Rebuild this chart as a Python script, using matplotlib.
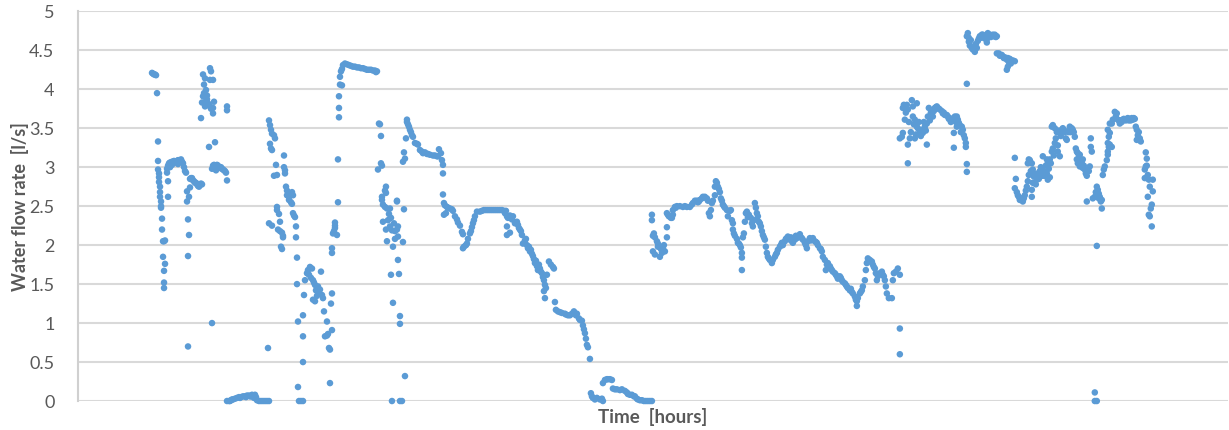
import matplotlib
matplotlib.use("Agg")
import matplotlib.pyplot as plt

# flow logger readings: (time [min from start of record], flow [l/s])
burst_a = [(152, 4.21), (153, 4.20), (154, 4.19), (155, 4.19), (156, 4.18), (157, 3.95), (158, 3.33),
           (158, 3.08), (158, 2.97), (159, 2.92), (159, 2.87), (159, 2.81), (160, 2.75), (160, 2.68),
           (160, 2.62), (161, 2.56), (161, 2.50), (161, 2.48), (162, 2.34), (162, 2.20), (163, 2.05),
           (164, 2.05), (165, 2.06), (163, 1.85), (165, 1.76), (164, 1.67), (164, 1.52), (164, 1.45),
           (167, 2.98), (167, 2.93), (168, 3.02), (168, 2.82), (168, 2.62), (169, 3.05), (170, 3.06),
           (170, 3.00), (171, 3.06), (172, 3.07), (172, 3.03), (173, 3.07), (174, 3.08), (175, 3.06),
           (176, 3.07), (177, 3.08), (178, 3.09), (178, 3.04), (179, 3.09), (180, 3.08), (181, 3.10),
           (182, 3.07), (183, 3.05), (184, 3.00), (185, 2.95), (186, 2.93), (187, 2.69), (187, 2.56),
           (188, 2.33), (189, 2.62), (189, 2.13), (190, 2.74), (190, 2.85), (191, 2.86), (192, 2.86),
           (193, 2.83), (194, 2.82), (195, 2.80), (196, 2.80), (197, 2.78), (198, 2.76), (199, 2.75),
           (200, 2.77), (201, 2.79), (202, 2.78), (188, 1.86), (188, 0.70),
           (210, 4.27), (211, 4.23), (203, 4.19), (205, 4.14), (210, 4.12), (213, 4.12), (204, 4.06),
           (206, 3.99), (203, 3.91), (207, 3.87), (202, 3.83), (208, 3.82), (214, 3.84), (205, 3.78),
           (210, 3.78), (213, 3.76), (213, 3.69), (201, 3.63), (227, 3.78), (227, 3.73), (209, 3.26),
           (215, 3.32), (206, 3.85), (209, 3.80), (211, 3.75), (204, 3.95), (207, 3.92),
           (212, 2.98), (213, 3.02), (214, 3.03), (215, 3.01), (216, 3.00), (217, 3.03), (218, 3.02),
           (219, 3.00), (220, 2.99), (221, 3.00), (222, 2.98), (223, 2.97), (224, 2.96), (225, 2.95),
           (226, 2.93), (227, 2.83), (212, 1.00), (214, 2.99), (216, 2.96)]

low_a = [(227, 0.00), (229, 0.00), (231, 0.01), (233, 0.02), (235, 0.03), (237, 0.04), (239, 0.05),
         (241, 0.05), (243, 0.06), (245, 0.06), (247, 0.07), (249, 0.07), (251, 0.06), (253, 0.07),
         (255, 0.08), (256, 0.05), (257, 0.01), (259, 0.00), (261, 0.00), (263, 0.00), (265, 0.00),
         (267, 0.00), (269, 0.00), (230, 0.00), (240, 0.04), (250, 0.06), (254, 0.04), (246, 0.05),
         (252, 0.08), (232, 0.02)]

burst_b = [(268, 0.68), (269, 3.60), (270, 3.54), (271, 3.48), (272, 3.43), (274, 3.41), (275, 3.37),
           (270, 3.30), (271, 3.24), (272, 3.22), (276, 3.03), (274, 2.89), (277, 2.90), (277, 2.49),
           (277, 2.45), (279, 2.40), (269, 2.28), (272, 2.25), (280, 2.30), (278, 2.20), (280, 2.18),
           (282, 2.16), (283, 2.12), (283, 2.10), (281, 1.98), (282, 1.95),
           (284, 3.15), (284, 3.00), (285, 2.96), (285, 2.92), (286, 2.75), (287, 2.70), (287, 2.64),
           (289, 2.62), (290, 2.66), (292, 2.68), (293, 2.64), (289, 2.58), (291, 2.55), (292, 2.53),
           (293, 2.41), (294, 2.38), (295, 2.36), (296, 2.24), (296, 2.10), (297, 1.84), (297, 1.50),
           (298, 1.02), (298, 0.18), (299, 0.00), (301, 0.00), (303, 0.00), (303, 1.10), (303, 0.83),
           (303, 0.50), (304, 1.36),
           (305, 1.55), (307, 1.64), (308, 1.68), (310, 1.72), (312, 1.70), (313, 1.55), (315, 1.49),
           (317, 1.45), (318, 1.47), (320, 1.43), (321, 1.66), (313, 1.30), (315, 1.28), (322, 1.36),
           (323, 1.32), (324, 1.15), (327, 1.02), (325, 0.83), (327, 0.84), (328, 0.86), (329, 0.68),
           (330, 0.66), (330, 0.23), (332, 0.91), (331, 1.25), (332, 1.38), (332, 1.90), (332, 1.96),
           (333, 2.15), (334, 2.18), (335, 2.22), (335, 2.25), (335, 2.29), (337, 2.13), (338, 2.55),
           (338, 3.10), (309, 1.62), (311, 1.58), (314, 1.52), (316, 1.42), (319, 1.38), (317, 1.35)]

peak_b = [(339, 3.64), (339, 3.76), (339, 3.91), (340, 4.06), (342, 4.05), (340, 4.16), (341, 4.23),
          (342, 4.26), (343, 4.31), (345, 4.33), (347, 4.32), (349, 4.31), (351, 4.30), (353, 4.29),
          (355, 4.29), (357, 4.28), (359, 4.28), (361, 4.27), (363, 4.27), (365, 4.26), (367, 4.25),
          (369, 4.25), (371, 4.25), (373, 4.24), (375, 4.24), (377, 4.23), (376, 4.22)]

burst_c = [(379, 3.56), (380, 3.55), (381, 3.40), (381, 3.05), (382, 3.02), (378, 2.97), (386, 2.75),
           (385, 2.70), (386, 2.67), (382, 2.62), (382, 2.58), (383, 2.52), (385, 2.49), (387, 2.47),
           (390, 2.47), (383, 2.30), (388, 2.32), (386, 2.20), (390, 2.24), (392, 2.19), (395, 2.18),
           (397, 2.20), (398, 2.11), (395, 2.08), (393, 1.98), (387, 2.05), (397, 2.56), (397, 2.57),
           (398, 2.24), (403, 2.04), (404, 2.46), (398, 1.81), (391, 1.62), (399, 1.63), (393, 1.26),
           (400, 1.09), (400, 0.99), (405, 0.32), (392, 0.00), (400, 0.00), (402, 0.00), (389, 2.40),
           (391, 2.35), (394, 2.28)]

decline_c = [(403, 3.07), (405, 3.11), (404, 3.19), (406, 3.37), (407, 3.61), (407, 3.58), (408, 3.55),
             (409, 3.52), (410, 3.48), (411, 3.45), (412, 3.41), (413, 3.39), (415, 3.31), (417, 3.30),
             (418, 3.29), (420, 3.22), (422, 3.20), (423, 3.18), (427, 3.17), (430, 3.16), (433, 3.15),
             (437, 3.14), (439, 3.23), (441, 3.18), (442, 3.09), (443, 3.03), (443, 2.92), (443, 2.65),
             (444, 2.54), (445, 2.51), (447, 2.49), (448, 2.48), (450, 2.47), (452, 2.46), (453, 2.44),
             (455, 2.37), (457, 2.33), (458, 2.29), (460, 2.25), (462, 2.17), (463, 2.14), (444, 2.39),
             (446, 2.41), (463, 1.96), (464, 1.98), (466, 2.00), (467, 2.02), (468, 2.08), (470, 2.15),
             (471, 2.18), (472, 2.23), (473, 2.28), (474, 2.32), (475, 2.37), (477, 2.43), (480, 2.43),
             (482, 2.44), (484, 2.45), (486, 2.45), (488, 2.45), (490, 2.45), (492, 2.45), (494, 2.45),
             (496, 2.45), (498, 2.45), (500, 2.45), (502, 2.45), (504, 2.44), (506, 2.44),
             (505, 2.41), (507, 2.37), (508, 2.35), (510, 2.38), (513, 2.37), (517, 2.30), (507, 2.24),
             (507, 2.13), (510, 2.16), (518, 2.26), (520, 2.20), (522, 2.13), (523, 2.02), (527, 2.00),
             (528, 1.96), (530, 1.92), (532, 1.89), (533, 1.86), (535, 1.77), (537, 1.73), (538, 1.68),
             (540, 1.70), (542, 1.64), (543, 1.59), (545, 1.49), (544, 1.41), (545, 1.32), (547, 1.62),
             (549, 1.79), (551, 1.75), (553, 1.72), (554, 1.70), (555, 1.27), (556, 1.17), (558, 1.15),
             (562, 1.13), (565, 1.12), (568, 1.10), (572, 1.12), (574, 1.15), (577, 1.12), (579, 1.06),
             (582, 1.03), (583, 0.97), (585, 0.87), (586, 0.80), (587, 0.72), (588, 0.69), (590, 0.54),
             (512, 2.33), (515, 2.28), (519, 2.22), (521, 2.18), (525, 2.06), (526, 2.08), (529, 1.98),
             (531, 1.94), (534, 1.82), (536, 1.80), (539, 1.75), (541, 1.66), (544, 1.55), (546, 1.45),
             (560, 1.14), (566, 1.11), (570, 1.10), (576, 1.10), (580, 1.04), (584, 0.92),
             (425, 3.19), (428, 3.17), (435, 3.15), (438, 3.14)]

low_c = [(591, 0.10), (592, 0.06), (593, 0.04), (595, 0.02), (597, 0.04), (600, 0.02), (602, 0.03),
         (603, 0.00), (603, 0.23), (605, 0.27), (607, 0.28), (608, 0.28), (610, 0.28), (612, 0.27),
         (613, 0.16), (615, 0.15), (617, 0.15), (620, 0.14), (622, 0.15), (625, 0.13), (627, 0.11),
         (628, 0.09), (630, 0.08), (632, 0.08), (634, 0.06), (635, 0.06), (637, 0.03), (638, 0.02),
         (640, 0.01), (642, 0.01), (644, 0.00), (646, 0.00), (648, 0.00), (650, 0.00), (652, 0.00)]

rise_d = [(652, 2.39), (652, 2.32), (654, 2.15), (653, 2.12), (655, 2.10), (657, 2.05), (653, 1.92),
          (655, 1.88), (658, 1.98), (660, 1.85), (662, 1.90), (663, 1.96), (665, 1.92), (667, 2.10),
          (667, 2.23), (667, 2.41), (668, 2.39), (669, 2.37), (671, 2.35), (672, 2.35), (673, 2.39),
          (673, 2.45), (675, 2.49), (677, 2.50), (680, 2.50), (683, 2.49), (687, 2.49), (690, 2.49),
          (693, 2.54), (695, 2.57), (697, 2.57), (698, 2.55), (700, 2.58), (702, 2.60), (703, 2.62),
          (705, 2.62), (707, 2.60), (708, 2.57), (709, 2.41), (710, 2.37), (712, 2.54), (713, 2.57),
          (715, 2.64), (715, 2.75), (716, 2.82), (717, 2.80), (718, 2.75), (719, 2.72), (720, 2.68),
          (721, 2.60), (722, 2.57), (723, 2.52), (725, 2.48), (727, 2.45), (728, 2.37), (730, 2.44),
          (731, 2.45), (732, 2.32), (733, 2.28), (733, 2.20), (734, 2.15), (735, 2.12), (737, 2.08),
          (738, 2.03), (740, 2.00), (741, 1.97), (742, 1.90), (742, 1.84), (742, 1.68), (743, 2.10),
          (744, 2.15), (745, 2.30), (746, 2.41), (747, 2.43), (749, 2.39), (751, 2.35), (752, 2.28),
          (753, 2.24), (754, 2.32), (755, 2.54), (756, 2.48), (757, 2.41), (758, 2.37), (759, 2.30),
          (761, 2.24), (762, 2.18), (763, 2.13), (765, 2.07), (766, 1.98), (767, 1.90), (768, 1.85),
          (770, 1.81), (772, 1.77), (773, 1.81), (775, 1.85), (777, 1.90), (778, 1.94), (780, 1.98),
          (782, 2.03), (783, 2.00), (785, 2.05), (787, 2.09), (788, 2.11), (790, 2.07), (792, 2.05),
          (793, 2.03), (795, 2.07), (797, 2.09), (798, 2.11), (800, 2.14), (802, 2.09), (803, 2.07),
          (805, 2.03), (807, 1.96), (808, 2.05), (810, 2.09), (812, 2.07), (813, 2.09), (815, 2.05),
          (817, 2.03), (818, 2.00), (820, 1.96), (822, 1.92), (823, 1.85), (825, 1.81), (826, 1.68),
          (828, 1.77), (830, 1.73), (832, 1.68), (833, 1.66), (835, 1.64), (837, 1.60), (838, 1.57),
          (840, 1.60), (842, 1.55), (843, 1.53), (845, 1.51), (847, 1.47), (848, 1.45), (850, 1.42),
          (852, 1.40), (853, 1.38), (855, 1.34), (857, 1.28), (857, 1.22), (858, 1.32), (860, 1.38),
          (862, 1.42), (863, 1.47), (865, 1.55), (866, 1.68), (867, 1.77), (868, 1.83), (870, 1.81),
          (872, 1.79), (873, 1.75), (875, 1.70), (876, 1.64), (877, 1.55), (878, 1.60), (880, 1.64),
          (882, 1.66), (883, 1.62), (885, 1.55), (886, 1.47), (887, 1.38), (889, 1.32), (892, 1.32),
          (893, 1.55), (894, 1.64), (896, 1.66), (898, 1.70), (900, 1.62), (900, 0.93), (900, 0.60),
          (658, 2.02), (661, 1.95), (664, 2.00), (676, 2.48), (685, 2.50), (692, 2.52), (699, 2.56),
          (704, 2.61), (711, 2.45), (724, 2.50), (739, 2.02), (748, 2.36), (760, 2.28), (764, 2.10),
          (769, 1.83), (776, 1.88), (781, 2.00), (786, 2.08), (791, 2.10), (796, 2.12), (801, 2.10),
          (806, 2.00), (811, 2.06), (816, 2.04), (821, 1.95), (827, 1.75), (831, 1.70), (836, 1.62),
          (841, 1.58), (846, 1.49), (851, 1.44), (856, 1.30), (861, 1.40), (869, 1.79), (874, 1.72),
          (879, 1.62), (884, 1.60)]

burst_e = [(900, 3.37), (902, 3.39), (903, 3.44), (905, 3.61), (903, 3.76), (904, 3.80), (907, 3.80),
           (908, 3.74), (908, 3.29), (908, 3.05), (910, 3.37), (912, 3.86), (913, 3.78), (913, 3.65),
           (915, 3.61), (915, 3.37), (917, 3.82), (917, 3.52), (918, 3.50), (920, 3.46), (922, 3.48),
           (923, 3.44), (925, 3.52), (927, 3.56), (927, 3.29), (928, 3.65), (929, 3.76), (932, 3.69),
           (933, 3.65), (935, 3.76), (937, 3.78), (938, 3.76), (940, 3.74), (942, 3.72), (943, 3.69),
           (945, 3.67), (947, 3.67), (948, 3.65), (950, 3.63), (952, 3.61), (953, 3.61), (955, 3.65),
           (957, 3.65), (958, 3.61), (957, 3.52), (954, 3.44), (954, 3.25), (960, 3.54), (962, 3.52),
           (963, 3.48), (964, 3.41), (965, 3.37), (966, 3.31), (966, 3.26), (967, 3.04), (967, 2.94),
           (906, 3.70), (909, 3.58), (911, 3.45), (914, 3.55), (916, 3.42), (919, 3.58), (921, 3.40),
           (924, 3.58), (926, 3.47), (930, 3.60), (931, 3.70), (934, 3.72), (936, 3.77), (939, 3.75),
           (944, 3.70), (949, 3.62), (951, 3.58), (956, 3.58), (959, 3.57), (961, 3.45)]

peak_e = [(968, 4.72), (967, 4.68), (969, 4.61), (970, 4.56), (972, 4.53), (973, 4.51), (975, 4.48),
          (977, 4.53), (976, 4.58), (978, 4.62), (980, 4.68), (982, 4.70), (983, 4.70), (985, 4.65),
          (987, 4.64), (987, 4.60), (988, 4.72), (990, 4.70), (992, 4.69), (993, 4.70), (995, 4.70),
          (997, 4.68), (967, 4.07), (997, 4.46), (999, 4.46), (1002, 4.44), (1003, 4.42), (1005, 4.41),
          (1007, 4.38), (1008, 4.40), (1010, 4.39), (1012, 4.36), (1013, 4.37), (1015, 4.36),
          (1007, 4.25), (1008, 4.29), (969, 4.66), (971, 4.63), (974, 4.55), (979, 4.65), (981, 4.66),
          (984, 4.68), (986, 4.68), (989, 4.68), (991, 4.67), (994, 4.68), (996, 4.67), (1000, 4.43),
          (1004, 4.40), (1009, 4.35), (1011, 4.33)]

burst_f = [(1015, 3.12), (1016, 2.85), (1015, 2.73), (1017, 2.68), (1018, 2.64), (1020, 2.58),
           (1023, 2.56), (1025, 2.64), (1027, 2.75), (1028, 2.82), (1028, 3.05), (1029, 3.10),
           (1030, 3.09), (1032, 3.05), (1033, 2.97), (1035, 2.91), (1037, 2.84), (1033, 2.80),
           (1032, 2.71), (1032, 2.62), (1038, 2.92), (1040, 2.95), (1042, 2.91), (1043, 2.89),
           (1045, 2.89), (1047, 2.92), (1043, 3.14), (1047, 3.10), (1048, 3.05), (1048, 2.84),
           (1050, 2.87), (1050, 3.10), (1052, 3.20), (1053, 3.24), (1055, 3.31), (1056, 3.37),
           (1058, 3.28), (1058, 3.20), (1060, 3.14), (1052, 3.52), (1053, 3.54), (1055, 3.50),
           (1057, 3.45), (1058, 3.47), (1060, 3.44), (1062, 3.48), (1063, 3.50), (1065, 3.45),
           (1066, 3.37), (1067, 3.35), (1068, 3.46), (1070, 3.52), (1072, 3.50), (1073, 3.48),
           (1075, 3.39), (1076, 3.24), (1077, 3.20), (1078, 3.18), (1080, 3.16), (1077, 3.10),
           (1078, 3.05), (1080, 3.01), (1082, 3.07), (1083, 3.10), (1083, 2.99), (1085, 2.97),
           (1086, 2.92), (1087, 2.89), (1088, 2.97), (1090, 3.01), (1087, 2.56), (1091, 3.37),
           (1091, 3.26), (1092, 3.20), (1093, 2.60), (1095, 2.62), (1097, 2.75), (1098, 2.71),
           (1099, 2.66), (1100, 2.62), (1101, 2.56), (1102, 2.47), (1102, 2.58), (1097, 1.99),
           (1095, 0.11), (1095, 0.00), (1097, 0.00), (1103, 2.90), (1104, 2.97), (1105, 3.01),
           (1107, 3.09), (1108, 3.16), (1108, 3.20), (1109, 3.26), (1110, 3.29), (1112, 3.26),
           (1108, 3.31), (1109, 3.39), (1110, 3.44), (1108, 3.48), (1110, 3.56), (1112, 3.56),
           (1113, 3.61), (1115, 3.71), (1117, 3.69), (1118, 3.61), (1120, 3.56), (1122, 3.58),
           (1123, 3.61), (1125, 3.61), (1127, 3.62), (1128, 3.63), (1130, 3.62), (1132, 3.63),
           (1133, 3.61), (1135, 3.62), (1136, 3.52), (1137, 3.48), (1138, 3.41), (1137, 3.35),
           (1140, 3.37), (1141, 3.33), (1146, 3.19), (1147, 3.11), (1146, 3.01), (1145, 2.97),
           (1147, 3.02), (1145, 2.86), (1149, 2.84), (1153, 2.84), (1153, 2.69), (1148, 2.62),
           (1152, 2.52), (1151, 2.47), (1149, 2.39), (1150, 2.37), (1152, 2.24),
           (1031, 2.95), (1034, 2.88), (1036, 2.78), (1039, 2.85), (1041, 3.00), (1044, 2.95),
           (1046, 3.02), (1049, 2.98), (1051, 3.05), (1054, 3.15), (1019, 2.62), (1021, 2.60),
           (1024, 2.60), (1026, 2.70), (1029, 2.90), (1061, 3.40), (1064, 3.48), (1069, 3.45),
           (1071, 3.45), (1074, 3.45), (1079, 3.12), (1081, 3.05), (1084, 3.02), (1089, 2.95),
           (1096, 2.68), (1099, 2.60), (1116, 3.65), (1119, 3.60), (1121, 3.60), (1124, 3.62),
           (1126, 3.60), (1129, 3.60), (1131, 3.60), (1134, 3.63), (1139, 3.45), (1148, 2.90),
           (1150, 2.75)]

segments = [burst_a, low_a, burst_b, peak_b, burst_c, decline_c, low_c,
            rise_d, burst_e, peak_e, burst_f]

t = [p[0] for seg in segments for p in seg]
q = [p[1] for seg in segments for p in seg]

plt.rcParams['font.family'] = ['Lato', 'DejaVu Sans']

fig = plt.figure(figsize=(12.29, 4.30), dpi=100)
ax = fig.add_axes([0.0635, 0.0674, 0.9355, 0.9063])

ax.scatter(t, q, s=22, color='#5B9BD5', edgecolors='none', zorder=3, clip_on=False)

ax.set_xlim(78, 1228)
ax.set_ylim(0, 5)
ax.set_yticks([0, 0.5, 1, 1.5, 2, 2.5, 3, 3.5, 4, 4.5, 5])
ax.set_yticklabels(['0', '0.5', '1', '1.5', '2', '2.5', '3', '3.5', '4', '4.5', '5'])
ax.set_xticks([])
ax.grid(axis='y', color='#D9D9D9', linewidth=1.5, zorder=0)
ax.tick_params(axis='y', length=0, pad=17, labelsize=13, labelcolor='#595959')

for side in ['top', 'right', 'bottom']:
    ax.spines[side].set_visible(False)
ax.spines['left'].set_color('#D0D0D0')
ax.spines['left'].set_linewidth(1.5)

ax.set_ylabel('Water flow rate  [l/s]', fontsize=13, fontweight='bold', color='#595959', labelpad=0)
ax.set_xlabel('Time  [hours]', fontsize=13.5, fontweight='bold', color='#595959', labelpad=5)

fig.savefig('out.png', dpi=100)
